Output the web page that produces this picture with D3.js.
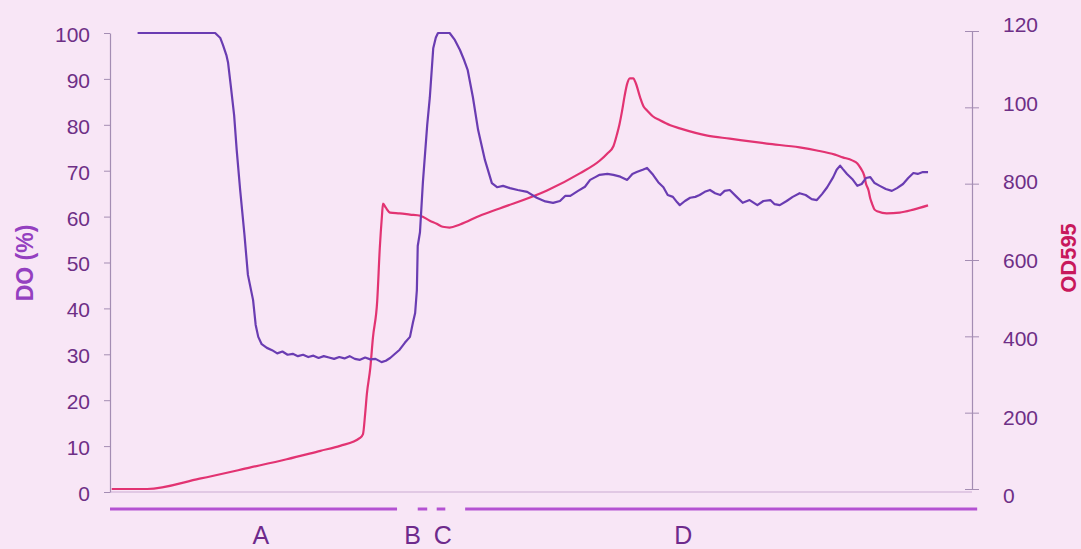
<!DOCTYPE html>
<html>
<head>
<meta charset="utf-8">
<script src="https://cdn.jsdelivr.net/npm/d3@7"></script>
<style>
  html, body { margin: 0; padding: 0; background: #f8e6f6; }
  svg { display: block; font-family: "Liberation Sans", Arial, sans-serif; }
</style>
</head>
<body>
<svg id="chart" width="1081" height="549"></svg>
<script>
// Time (arbitrary units, 0–100 across the plot) and dissolved oxygen (%)
const doTime = [3.2, 12.2, 12.8, 13.1, 13.5, 13.7, 14.0, 14.4, 14.7, 15.1, 15.6, 16.0, 16.6, 16.9, 17.2, 17.6, 18.2,
  18.8, 19.4, 20.0, 20.6, 21.2, 21.8, 22.4, 23.0, 23.6, 24.2, 24.8, 25.4, 26.0, 26.6, 27.2, 27.8, 28.4, 29.0, 29.6,
  30.2, 30.8, 31.5, 32.0, 32.5, 33.6, 34.2, 34.8, 35.15, 35.4, 35.6, 35.7, 35.96, 36.3, 36.8, 37.1, 37.5, 37.8, 38.05,
  39.4, 40.0, 40.6, 41.1, 41.5, 42.1, 42.7, 43.5, 44.3, 44.9, 45.6, 46.4, 47.3, 48.4, 49.5, 50.5, 51.4, 52.2, 52.8,
  53.4, 54.3, 55.1, 55.7, 56.3, 56.8, 57.7, 58.4, 59.2, 60.0, 60.6, 61.1, 61.8, 62.3, 63.0, 63.6, 64.2, 64.7, 65.3,
  65.8, 66.1, 66.7, 67.3, 67.9, 68.4, 69.0, 69.6, 70.2, 70.8, 71.3, 71.9, 72.7, 73.4, 74.2, 75.1, 75.8, 76.6, 77.1,
  77.7, 78.5, 79.2, 80.0, 80.7, 81.4, 82.0, 82.6, 83.2, 83.9, 84.3, 84.7, 85.0, 85.5, 86.1, 86.7, 87.2, 87.7, 88.2,
  88.7, 89.3, 90.0, 90.7, 91.3, 92.0, 92.6, 93.2, 93.7, 94.3, 94.9];
const doValues = [100, 100, 98.9, 97.4, 95.2, 93.5, 88.7, 82.1, 74.5, 65.8, 56.0, 47.3, 41.8, 36.4, 33.8, 32.2, 31.4,
  30.9, 30.2, 30.6, 29.9, 30.1, 29.6, 29.9, 29.4, 29.7, 29.2, 29.6, 29.3, 29.0, 29.4, 29.1, 29.6, 29.0, 28.8, 29.3,
  28.9, 29.0, 28.3, 28.6, 29.2, 31.0, 32.5, 33.8, 37.0, 39.0, 44.0, 53.6, 56.6, 67.5, 80.0, 85.9, 96.7, 99.0, 100,
  100, 98.5, 96.3, 94.0, 91.9, 86.0, 78.9, 72.3, 67.3, 66.4, 66.7, 66.2, 65.8, 65.4, 64.1, 63.3, 63.0, 63.4, 64.5,
  64.5, 65.6, 66.5, 68.0, 68.6, 69.1, 69.3, 69.1, 68.7, 68.0, 69.3, 69.7, 70.2, 70.6, 69.1, 67.5, 66.4, 64.7, 64.3,
  63.1, 62.5, 63.4, 64.1, 64.3, 64.7, 65.4, 65.8, 65.1, 64.7, 65.6, 65.8, 64.3, 63.0, 63.6, 62.5, 63.4, 63.6, 62.7,
  62.5, 63.4, 64.3, 65.1, 64.7, 63.8, 63.6, 64.9, 66.4, 68.6, 70.2, 71.1, 70.4, 69.3, 68.2, 66.7, 67.1, 68.4, 68.6,
  67.3, 66.7, 66.0, 65.6, 66.2, 67.1, 68.4, 69.5, 69.3, 69.7, 69.7];

// Time and optical density (OD595)
const odTime = [0.2, 4.3, 10.4, 16.2, 20.5, 24.4, 26.7, 29.0, 29.35, 29.6, 29.8, 30.2, 30.5, 31.0, 31.3, 31.55,
  31.67, 32.0, 32.5, 33.6, 34.8, 36.0, 37.1, 37.9, 38.6, 39.4, 40.6, 42.9, 45.2, 50.7, 54.5, 56.8, 57.7, 58.4, 58.8,
  59.1, 59.4, 59.7, 60.0, 60.3, 60.7, 61.0, 61.5, 61.9, 62.3, 63.0, 63.8, 65.0, 66.1, 69.3, 71.9, 76.2, 80.0, 82.0,
  84.1, 85.0, 86.1, 86.7, 87.1, 87.5, 87.7, 88.0, 88.2, 88.4, 88.7, 89.1, 90.1, 91.6, 93.2, 94.9];
const odValues = [0, 0, 27, 56, 78, 100, 113, 134, 144, 197, 249, 318, 396, 493, 632, 716,
  748, 737, 724, 722, 719, 716, 703, 695, 687, 685, 693, 716, 735, 782, 827, 860, 879, 898, 928,
  955, 990, 1030, 1062, 1076, 1076, 1063, 1026, 1002, 992, 976, 966, 953, 945, 926, 918, 905, 895, 887,
  876, 869, 861, 853, 840, 821, 800, 782, 761, 748, 732, 727, 722, 724, 732, 743];

// Axis ticks
const doTicks = [0, 10, 20, 30, 40, 50, 60, 70, 80, 90, 100];
const odTicks = [0, 200, 400, 600, 800, 1000, 1200];
const odTickLabels = ["0", "200", "400", "600", "800", "100", "120"];

// Culture phases along the time axis
const phaseNames = ["A", "B", "C", "D"];
const phaseStart = [0, 35.7, 37.9, 41.2];
const phaseEnd = [33.3, 36.8, 38.9, 100.6];
const phaseLabelAt = [17.5, 35.1, 38.6, 66.5];

const svg = d3.select("#chart");
const left = 110, right = 972;

const x = d3.scaleLinear().domain([0, 100]).range([left, right]);
const yDO = d3.scaleLinear().domain([0, 100]).range([492, 33]);
const yOD = d3.scaleLinear().domain([0, 1200]).range([489, 31]);
// right-hand labels sit on a slightly wider spacing than their ticks
const yODLabel = d3.scaleLinear().domain([0, 1200]).range([495, 24]);

const axisColor = "#a48db3";
const tickText = "#6e2f86";

// x baseline
svg.append("line")
  .attr("x1", left).attr("x2", right)
  .attr("y1", yDO(0)).attr("y2", yDO(0))
  .attr("stroke", "#c9a9d2").attr("stroke-width", 1.2);

// Left axis (DO %)
const gL = svg.append("g").attr("transform", `translate(${left},0)`)
  .call(d3.axisLeft(yDO).tickValues(doTicks).tickSize(6).tickSizeOuter(0).tickPadding(14));
gL.select(".domain").attr("stroke", axisColor).attr("stroke-width", 1.2);
gL.selectAll(".tick line").attr("stroke", axisColor);
gL.selectAll(".tick text").attr("fill", tickText).attr("font-size", 21)
  .attr("font-family", "Liberation Sans, Arial, sans-serif").attr("dy", "0.4em");

// Right axis (OD595) with crossing ticks
const gR = svg.append("g").attr("transform", `translate(${right},0)`)
  .call(d3.axisRight(yOD).tickValues(odTicks).tickFormat((d, i) => odTickLabels[i])
    .tickSize(7).tickSizeOuter(0).tickPadding(24));
gR.select(".domain").attr("stroke", axisColor).attr("stroke-width", 1.2);
gR.selectAll(".tick line").attr("x1", -7).attr("stroke", axisColor);
gR.selectAll(".tick text").attr("fill", tickText).attr("font-size", 21)
  .attr("font-family", "Liberation Sans, Arial, sans-serif")
  .attr("y", d => yODLabel(d) - yOD(d))
  .attr("dy", "0.36em");

// Axis titles
svg.append("text")
  .attr("transform", "translate(33,263) rotate(-90)")
  .attr("text-anchor", "middle")
  .attr("font-size", 23).attr("font-weight", "bold")
  .attr("fill", "#9440c0")
  .text("DO (%)");
svg.append("text")
  .attr("transform", "translate(1076,258) rotate(-90)")
  .attr("text-anchor", "middle")
  .attr("font-size", 22).attr("font-weight", "bold")
  .attr("fill", "#c8185c")
  .text("OD595");

// Series lines
const odLine = d3.line().x((d, i) => x(odTime[i])).y(d => yOD(d)).curve(d3.curveMonotoneX);
const doLine = d3.line().x((d, i) => x(doTime[i])).y(d => yDO(d)).curve(d3.curveLinear);

svg.append("path").datum(odValues)
  .attr("d", odLine)
  .attr("fill", "none").attr("stroke", "#e23372").attr("stroke-width", 2.2)
  .attr("stroke-linejoin", "round");

svg.append("path").datum(doValues)
  .attr("d", doLine)
  .attr("fill", "none").attr("stroke", "#6a3cb2").attr("stroke-width", 2.2)
  .attr("stroke-linejoin", "round");

// Phase bars and labels
const phases = phaseNames.map((n, i) => ({ name: n, s: phaseStart[i], e: phaseEnd[i], at: phaseLabelAt[i] }));
svg.append("g").selectAll("line").data(phases).join("line")
  .attr("x1", d => x(d.s)).attr("x2", d => x(d.e))
  .attr("y1", 509).attr("y2", 509)
  .attr("stroke", "#b452d2").attr("stroke-width", 3);
svg.append("g").selectAll("text").data(phases).join("text")
  .attr("x", d => x(d.at)).attr("y", 544)
  .attr("text-anchor", "middle")
  .attr("font-size", 25)
  .attr("fill", "#6e2a8c")
  .text(d => d.name);
</script>
</body>
</html>
